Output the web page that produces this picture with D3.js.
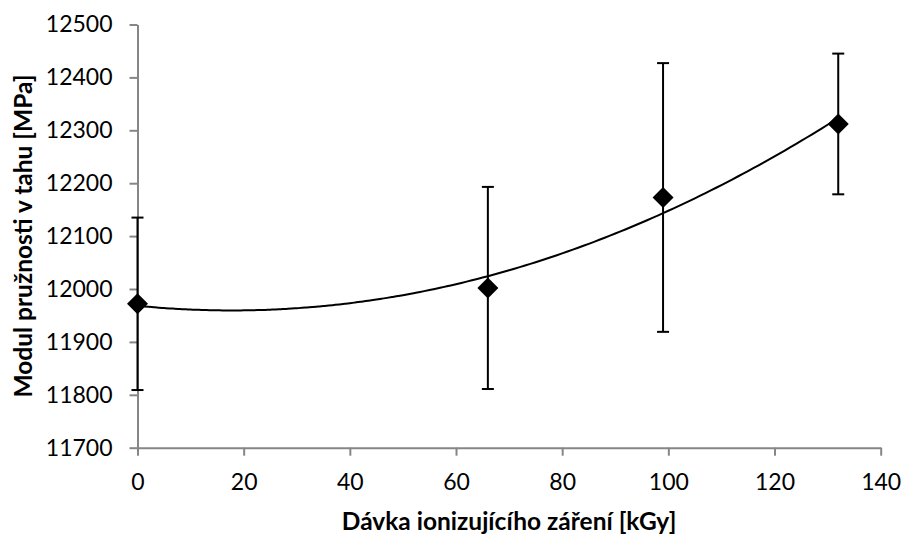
<!DOCTYPE html>
<html>
<head>
<meta charset="utf-8">
<script src="https://cdn.jsdelivr.net/npm/d3@7"></script>
<style>
  body { margin: 0; background: #fff; }
  text { font-family: Lato, "Open Sans", sans-serif; fill: #000; }
</style>
</head>
<body>
<div id="chart"></div>
<script>
// data
var dose = [0, 66, 99, 132];
var modulus = [11972, 12002, 12173, 12312];
var errs = [163, 191, 254, 133];
var xTicks = [0, 20, 40, 60, 80, 100, 120, 140];
var yTicks = [11700, 11800, 11900, 12000, 12100, 12200, 12300, 12400, 12500];

const W = 904, H = 536;
const margin = {top: 24.5, right: 23.3, bottom: 88.3, left: 137.5};

const svg = d3.select("#chart").append("svg")
    .attr("width", W).attr("height", H);

const x = d3.scaleLinear().domain([0, 140]).range([margin.left, W - margin.right]);
const y = d3.scaleLinear().domain([11700, 12500]).range([H - margin.bottom, margin.top]);

// axes
const xAxis = svg.append("g")
    .attr("transform", `translate(0, ${y(11700)})`)
    .call(d3.axisBottom(x).tickValues(xTicks).tickSize(8).tickSizeOuter(0).tickPadding(18));
const yAxis = svg.append("g")
    .attr("transform", `translate(${x(0)}, 0)`)
    .call(d3.axisLeft(y).tickValues(yTicks).tickFormat(d3.format("d")).tickSize(8).tickSizeOuter(0).tickPadding(17));

[xAxis, yAxis].forEach(function (g) {
    g.select(".domain").attr("stroke", "#868686").attr("stroke-width", 2);
    g.selectAll(".tick line").attr("stroke", "#868686").attr("stroke-width", 2);
    g.selectAll(".tick text").attr("font-size", "23px").attr("fill", "#000")
        .style("font-family", "Lato, 'Open Sans', sans-serif");
});

// polynomial trend (order 2), least squares fit of the points
function polyfit2(xs, ys) {
    var s = [0, 0, 0, 0, 0], t = [0, 0, 0];
    for (var i = 0; i < xs.length; i++) {
        var p = 1;
        for (var k = 0; k < 5; k++) { s[k] += p; if (k < 3) t[k] += p * ys[i]; p *= xs[i]; }
    }
    var A = [[s[0], s[1], s[2], t[0]], [s[1], s[2], s[3], t[1]], [s[2], s[3], s[4], t[2]]];
    for (var c = 0; c < 3; c++) {
        for (var r = c + 1; r < 3; r++) {
            var f = A[r][c] / A[c][c];
            for (var q = c; q < 4; q++) A[r][q] -= f * A[c][q];
        }
    }
    var sol = [0, 0, 0];
    for (var r2 = 2; r2 >= 0; r2--) {
        var v = A[r2][3];
        for (var q2 = r2 + 1; q2 < 3; q2++) v -= A[r2][q2] * sol[q2];
        sol[r2] = v / A[r2][r2];
    }
    return sol;
}
var coef = polyfit2(dose, modulus);
var trendPts = d3.range(0, 132.01, 1).map(function (d) {
    return [d, coef[0] + coef[1] * d + coef[2] * d * d];
});
svg.append("path")
    .datum(trendPts)
    .attr("fill", "none")
    .attr("stroke", "#000")
    .attr("stroke-width", 2)
    .attr("d", d3.line().x(d => x(d[0])).y(d => y(d[1])).curve(d3.curveMonotoneX));

// error bars
var bars = svg.append("g").selectAll("g")
    .data(dose.map((d, i) => ({x: d, y: modulus[i], e: errs[i]})))
    .enter().append("g")
    .attr("stroke", "#000").attr("stroke-width", 2);
bars.append("line")
    .attr("x1", d => x(d.x)).attr("x2", d => x(d.x))
    .attr("y1", d => y(d.y + d.e)).attr("y2", d => y(d.y - d.e));
bars.append("line")
    .attr("x1", d => x(d.x) - 6).attr("x2", d => x(d.x) + 6)
    .attr("y1", d => y(d.y + d.e)).attr("y2", d => y(d.y + d.e));
bars.append("line")
    .attr("x1", d => x(d.x) - 6).attr("x2", d => x(d.x) + 6)
    .attr("y1", d => y(d.y - d.e)).attr("y2", d => y(d.y - d.e));

// diamond markers
svg.append("g").selectAll("path")
    .data(dose.map((d, i) => ({x: d, y: modulus[i]})))
    .enter().append("path")
    .attr("d", "M0,-10.5L10.5,0L0,10.5L-10.5,0Z")
    .attr("transform", d => `translate(${x(d.x)}, ${y(d.y)})`)
    .attr("fill", "#000");

// axis titles
svg.append("text")
    .attr("x", (x(0) + x(140)) / 2)
    .attr("y", 530)
    .attr("text-anchor", "middle")
    .attr("font-size", "24.5px")
    .attr("font-weight", "bold")
    .text("Dávka ionizujícího záření [kGy]");
svg.append("text")
    .attr("transform", `translate(32, ${(y(11700) + y(12500)) / 2}) rotate(-90)`)
    .attr("text-anchor", "middle")
    .attr("font-size", "24.5px")
    .attr("font-weight", "bold")
    .text("Modul pružnosti v tahu [MPa]");
</script>
</body>
</html>
